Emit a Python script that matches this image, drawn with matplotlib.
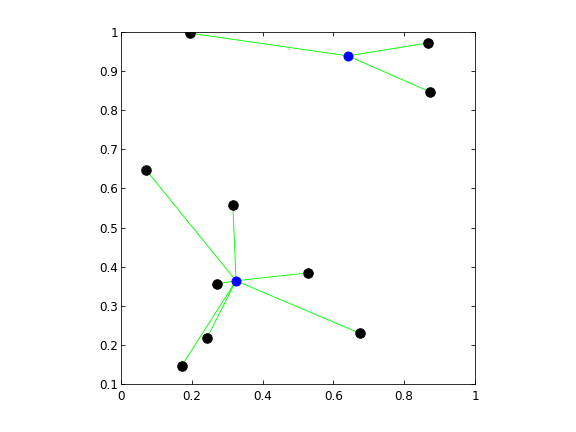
import matplotlib
matplotlib.use("Agg")
import matplotlib.pyplot as plt

centers_x = [0.641, 0.325]
centers_y = [0.939, 0.364]

# points and the cluster each belongs to
pts_x = [0.195, 0.867, 0.873, 0.071, 0.316, 0.271, 0.527, 0.674, 0.243, 0.172]
pts_y = [0.997, 0.972, 0.847, 0.647, 0.558, 0.356, 0.384, 0.230, 0.218, 0.147]
pts_cluster = [0, 0, 0, 1, 1, 1, 1, 1, 1, 1]

xticks = [0, 0.2, 0.4, 0.6, 0.8, 1]
xticklabels = ["0", "0.2", "0.4", "0.6", "0.8", "1"]
yticks = [0.1, 0.2, 0.3, 0.4, 0.5, 0.6, 0.7, 0.8, 0.9, 1]
yticklabels = ["0.1", "0.2", "0.3", "0.4", "0.5", "0.6", "0.7", "0.8", "0.9", "1"]

plt.rcParams['font.family'] = ['DejaVu Sans']
fig = plt.figure(figsize=(8, 6), dpi=72)
ax = fig.add_axes([121/576, 1-384/432, 354/576, 352/432])

for px, py, c in zip(pts_x, pts_y, pts_cluster):
    ax.plot([centers_x[c], px], [centers_y[c], py], color='#00ff00', lw=0.9, zorder=1)

ax.plot(pts_x, pts_y, 'o', color='black', markersize=9.5, zorder=2)
ax.plot(centers_x, centers_y, 'o', color='blue', markersize=9, zorder=3)

ax.set_xlim(0, 1)
ax.set_ylim(0.1, 1)
ax.set_xticks(xticks)
ax.set_xticklabels(xticklabels)
ax.set_yticks(yticks)
ax.set_yticklabels(yticklabels)
ax.tick_params(direction='in', top=True, right=True, length=4, width=0.8, labelsize=12)
ax.tick_params(axis='x', pad=6)
ax.tick_params(axis='y', pad=3)
for s in ax.spines.values():
    s.set_linewidth(0.8)

fig.savefig("out.png", dpi=72)
